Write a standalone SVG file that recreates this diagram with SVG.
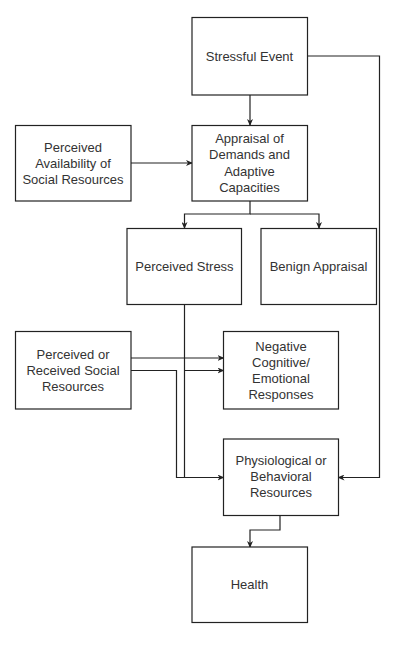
<svg xmlns="http://www.w3.org/2000/svg" width="400" height="649" viewBox="0 0 400 649">
<style>
.box{fill:#fff;stroke:#222;stroke-width:1.2}
.lbl{font-family:"Liberation Sans",Arial,sans-serif;font-size:13px;fill:#333;text-anchor:middle}
.conn{fill:none;stroke:#222;stroke-width:1.2}
</style>
<defs>
<marker id="ah" markerWidth="7" markerHeight="6" refX="6" refY="3" orient="auto" markerUnits="userSpaceOnUse">
<path d="M0,0 L7,3 L0,6 L2,3 Z" fill="#222"/>
</marker>
</defs>
<rect width="400" height="649" fill="#fff"/>
<g id="connectors">
<path class="conn" d="M250,95 V125" marker-end="url(#ah)"/>
<path class="conn" d="M131,163 H192" marker-end="url(#ah)"/>
<path class="conn" d="M250,201 V214 H184.5 V228" marker-end="url(#ah)"/>
<path class="conn" d="M250,214 H319 V228" marker-end="url(#ah)"/>
<path class="conn" d="M307,56 H379.5 V477.5 H338.5" marker-end="url(#ah)"/>
<path class="conn" d="M184.5,305 V477.5 H223.5" marker-end="url(#ah)"/>
<path class="conn" d="M184.5,370.5 H223.5" marker-end="url(#ah)"/>
<path class="conn" d="M131,358 H223.5" marker-end="url(#ah)"/>
<path class="conn" d="M131,370.5 H176.5 V477.5 H184.5"/>
<path class="conn" d="M280,515.5 V530 H250 V547" marker-end="url(#ah)"/>
</g>
<g id="stressful-event">
<rect class="box" x="192" y="17.5" width="115.5" height="77.5"/>
<text class="lbl" x="249.5" y="60.5">Stressful Event</text>
</g>
<g id="appraisal">
<rect class="box" x="192" y="125.5" width="115.5" height="75.5"/>
<text class="lbl" x="249.5" y="142.5">Appraisal of</text>
<text class="lbl" x="249.5" y="159">Demands and</text>
<text class="lbl" x="249.5" y="175.5">Adaptive</text>
<text class="lbl" x="249.5" y="191.5">Capacities</text>
</g>
<g id="perceived-availability">
<rect class="box" x="15.5" y="125.5" width="115.5" height="75.5"/>
<text class="lbl" x="73" y="151.5">Perceived</text>
<text class="lbl" x="73" y="167.5">Availability of</text>
<text class="lbl" x="73" y="183.5">Social Resources</text>
</g>
<g id="perceived-stress">
<rect class="box" x="127" y="228.5" width="114.5" height="76"/>
<text class="lbl" x="184.5" y="270.5">Perceived Stress</text>
</g>
<g id="benign-appraisal">
<rect class="box" x="261" y="228.5" width="115.5" height="76"/>
<text class="lbl" x="318.5" y="270.5">Benign Appraisal</text>
</g>
<g id="perceived-received">
<rect class="box" x="15.5" y="331.5" width="115.5" height="77.5"/>
<text class="lbl" x="73" y="358.5">Perceived or</text>
<text class="lbl" x="73" y="374.5">Received Social</text>
<text class="lbl" x="73" y="390.5">Resources</text>
</g>
<g id="negative-responses">
<rect class="box" x="223.5" y="331.5" width="115" height="77.5"/>
<text class="lbl" x="281" y="350.5">Negative</text>
<text class="lbl" x="281" y="367">Cognitive/</text>
<text class="lbl" x="281" y="383">Emotional</text>
<text class="lbl" x="281" y="399">Responses</text>
</g>
<g id="physiological">
<rect class="box" x="223.5" y="439" width="115" height="76.5"/>
<text class="lbl" x="281" y="465">Physiological or</text>
<text class="lbl" x="281" y="481">Behavioral</text>
<text class="lbl" x="281" y="497">Resources</text>
</g>
<g id="health">
<rect class="box" x="192" y="547" width="115.5" height="75.5"/>
<text class="lbl" x="249.5" y="588.5">Health</text>
</g>
</svg>
